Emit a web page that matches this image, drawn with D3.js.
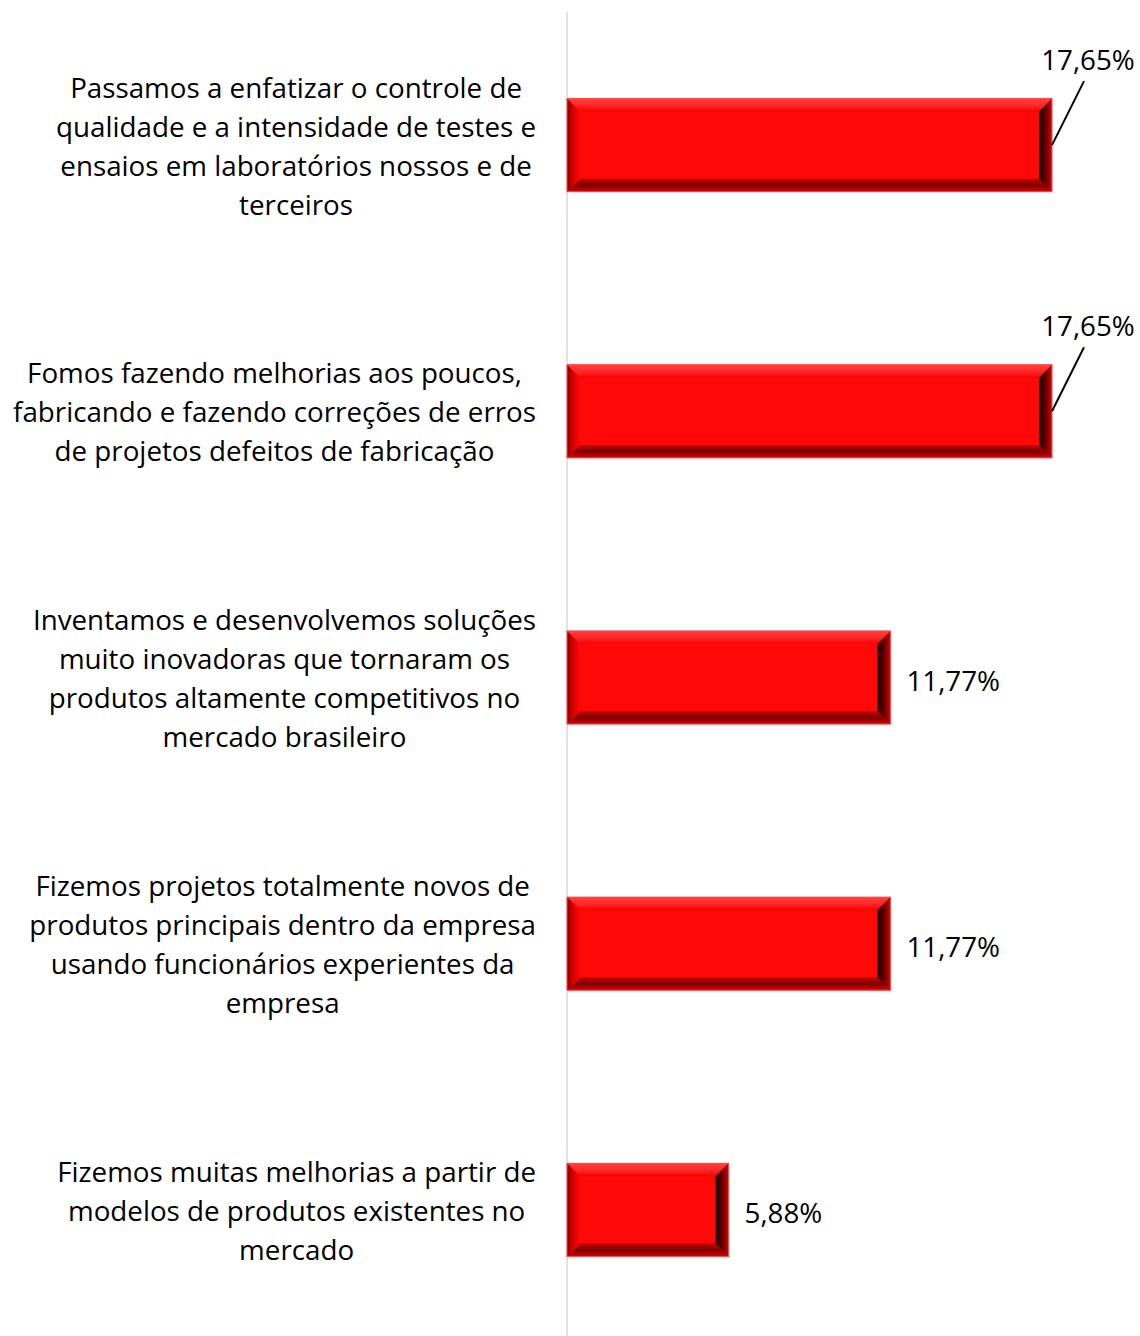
<!DOCTYPE html>
<html><head><meta charset="utf-8">
<script src="https://cdn.jsdelivr.net/npm/d3@7"></script>
<style>body{margin:0;background:#fff}svg{display:block}</style>
</head><body>
<svg id="c" width="1140" height="1336"></svg>
<script>
const categories = [
  ["Passamos a enfatizar o controle de","qualidade e a intensidade de testes e","ensaios em laboratórios nossos e de","terceiros"],
  ["Fomos fazendo melhorias aos poucos,","fabricando e fazendo correções de erros","de projetos defeitos de fabricação"],
  ["Inventamos e desenvolvemos soluções","muito inovadoras que tornaram os","produtos altamente competitivos no","mercado brasileiro"],
  ["Fizemos projetos totalmente novos de","produtos principais dentro da empresa","usando funcionários experientes da","empresa"],
  ["Fizemos muitas melhorias a partir de","modelos de produtos existentes no","mercado"]
];
const values = [17.65, 17.65, 11.77, 11.77, 5.88];
const valueLabels = ["17,65%","17,65%","11,77%","11,77%","5,88%"];

const svg = d3.select("#c");
const FONT = "'Open Sans', sans-serif";

// size font so the widest label line spans ~523px (as in reference)
const probe = svg.append("text").attr("font-family",FONT).attr("font-size",26).text(categories[1][1]);
const FS = 26 * 523 / probe.node().getComputedTextLength();
probe.remove();

const x = d3.scaleLinear().domain([0, 17.65]).range([567, 1052]);
const y = d3.scaleBand().domain(d3.range(categories.length)).range([12, 1343]).paddingInner(0.65).paddingOuter(0.325);

svg.append("line").attr("x1",567).attr("x2",567).attr("y1",12).attr("y2",1336)
  .attr("stroke","#d9d9d9").attr("stroke-width",1.5);

const defs = svg.append("defs");
function lg(id, x1,y1,x2,y2, stops){
  const g = defs.append("linearGradient").attr("id",id).attr("x1",x1).attr("y1",y1).attr("x2",x2).attr("y2",y2);
  stops.forEach(s=>g.append("stop").attr("offset",s[0]).attr("stop-color",s[1]));
}
lg("gTop",0,0,0,1,[[0,"#ff4040"],[0.5,"#ff2a2a"],[1,"#f80000"]]);
lg("gBot",0,0,0,1,[[0,"#c80000"],[0.5,"#7a0000"],[1,"#e00000"]]);
lg("gLeft",0,0,1,0,[[0,"#8a0000"],[0.4,"#d00000"],[1,"#ff0808"]]);
lg("gRight",0,0,1,0,[[0,"#150000"],[0.5,"#600000"],[1,"#d80000"]]);

const B = 13;
const bars = svg.append("g").selectAll("g").data(values).join("g");
bars.each(function(v,i){
  const g = d3.select(this);
  const x0 = x(0), x1 = x(v), y0 = y(i), y1 = y(i)+y.bandwidth();
  g.append("rect").attr("x",x0).attr("y",y0).attr("width",x1-x0).attr("height",y1-y0).attr("fill","#ff0808");
  const poly = (pts, fill) => g.append("polygon").attr("points", pts.map(p=>p.join(",")).join(" ")).attr("fill",fill);
  poly([[x0,y0],[x1,y0],[x1-B,y0+B],[x0+B,y0+B]],"url(#gTop)");
  poly([[x0,y1],[x1,y1],[x1-B,y1-B],[x0+B,y1-B]],"url(#gBot)");
  poly([[x0,y0],[x0+B,y0+B],[x0+B,y1-B],[x0,y1]],"url(#gLeft)");
  poly([[x1,y0],[x1-B,y0+B],[x1-B,y1-B],[x1,y1]],"url(#gRight)");
  g.append("rect").attr("x",x0).attr("y",y0).attr("width",x1-x0).attr("height",y1-y0)
    .attr("fill","none").attr("stroke","#ff4a4a").attr("stroke-width",1);
});

values.forEach((v,i)=>{
  const cy = y(i)+y.bandwidth()/2;
  if (v > 15) {
    svg.append("line").attr("x1",x(v)).attr("y1",cy).attr("x2",x(v)+32).attr("y2",cy-64)
      .attr("stroke","#000").attr("stroke-width",2);
    svg.append("text").attr("x",x(v)+36).attr("y",cy-86).attr("text-anchor","middle")
      .attr("dominant-baseline","central").attr("font-family",FONT).attr("font-size",FS)
      .text(valueLabels[i]);
  } else {
    svg.append("text").attr("x",x(v)+16).attr("y",cy+2).attr("dominant-baseline","central")
      .attr("font-family",FONT).attr("font-size",FS).text(valueLabels[i]);
  }
});

categories.forEach((lines,i)=>{
  const cy = y(i)+y.bandwidth()/2;
  const g = svg.append("g");
  const ts = lines.map((t,k)=>g.append("text").attr("font-family",FONT).attr("font-size",FS)
    .attr("text-anchor","middle").attr("dominant-baseline","central")
    .attr("y", cy + (k-(lines.length-1)/2)*39).text(t));
  const maxW = d3.max(ts, t=>t.node().getComputedTextLength());
  ts.forEach(t=>t.attr("x", 536 - maxW/2));
});
</script>
</body></html>
